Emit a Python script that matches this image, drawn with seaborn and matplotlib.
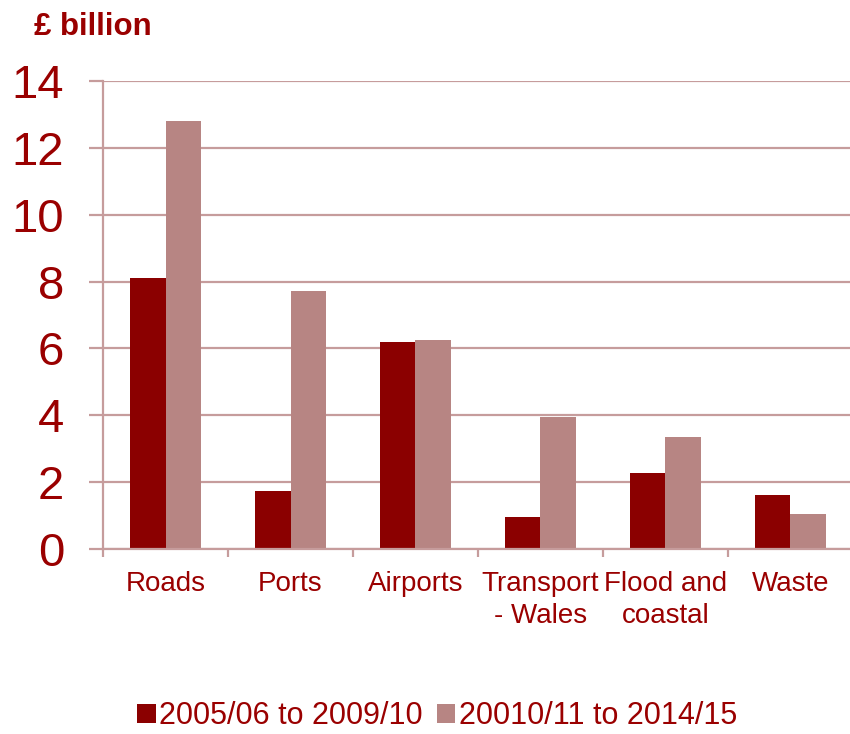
import matplotlib
matplotlib.use("Agg")
import matplotlib.pyplot as plt
import seaborn as sns
import pandas as pd
from matplotlib.patches import Patch

categories = ["Roads", "Ports", "Airports", "Transport\n- Wales", "Flood and\ncoastal", "Waste"]
period_a = "2005/06 to 2009/10"
period_b = "20010/11 to 2014/15"
values_a = [8.12, 1.73, 6.18, 0.97, 2.26, 1.62]
values_b = [12.80, 7.71, 6.25, 3.95, 3.34, 1.06]
y_ticks = [0, 2, 4, 6, 8, 10, 12, 14]

dark = "#8B0000"
light = "#B78583"
text_col = "#9A0000"
grid_col = "#C69C9C"

df = pd.DataFrame({
    "category": categories * 2,
    "period": [period_a] * len(categories) + [period_b] * len(categories),
    "value": values_a + values_b,
})

sns.set_theme(style="white")
plt.rcParams["font.family"] = ["Liberation Sans", "DejaVu Sans"]

fig = plt.figure(figsize=(8.5, 7.34), dpi=100)
ax = fig.add_axes([103 / 850, (734 - 549) / 734, 750 / 850, (549 - 81) / 734])

sns.barplot(data=df, x="category", y="value", hue="period", order=categories,
            hue_order=[period_a, period_b], palette=[dark, light],
            width=0.57, dodge=True, linewidth=0, saturation=1,
            legend=False, ax=ax)

ax.set_xlim(-0.5, len(categories) - 0.5)
ax.set_ylim(0, 14)
ax.set_yticks(y_ticks)
ax.set_yticklabels([str(t) for t in y_ticks], fontsize=34, color=text_col)
ax.set_xlabel("")
ax.set_ylabel("")

ax.yaxis.grid(True, color=grid_col, linewidth=1.6)
ax.set_axisbelow(True)
for side in ["top", "right"]:
    ax.spines[side].set_visible(False)
for side in ["left", "bottom"]:
    ax.spines[side].set_color(grid_col)
    ax.spines[side].set_linewidth(1.6)

ax.tick_params(axis="y", length=10, width=1.6, color=grid_col, pad=18, left=True)
ax.tick_params(axis="x", which="major", length=0, pad=16, labelsize=20, labelcolor=text_col)
ax.set_xticks([i - 0.5 for i in range(len(categories) + 1)], minor=True)
ax.tick_params(axis="x", which="minor", length=6, width=1.6, color=grid_col, bottom=True)
for lbl in ax.get_xticklabels():
    lbl.set_linespacing(1.3)
    lbl.set_verticalalignment("top")

fig.text(34 / 850, 1 - 35 / 734, "£ billion", fontsize=22.5, fontweight="bold",
         color=text_col, ha="left", va="baseline")

handles = [Patch(facecolor=dark, edgecolor="none"), Patch(facecolor=light, edgecolor="none")]
fig.legend(handles, [period_a, period_b], loc="center", bbox_to_anchor=(437 / 850, 1 - 716 / 734),
           ncol=2, frameon=False, fontsize=22, labelcolor=text_col,
           handlelength=0.6, handleheight=0.6, handletextpad=0.12, columnspacing=0.45,
           borderpad=0.2)

fig.savefig("out.png", dpi=100)
